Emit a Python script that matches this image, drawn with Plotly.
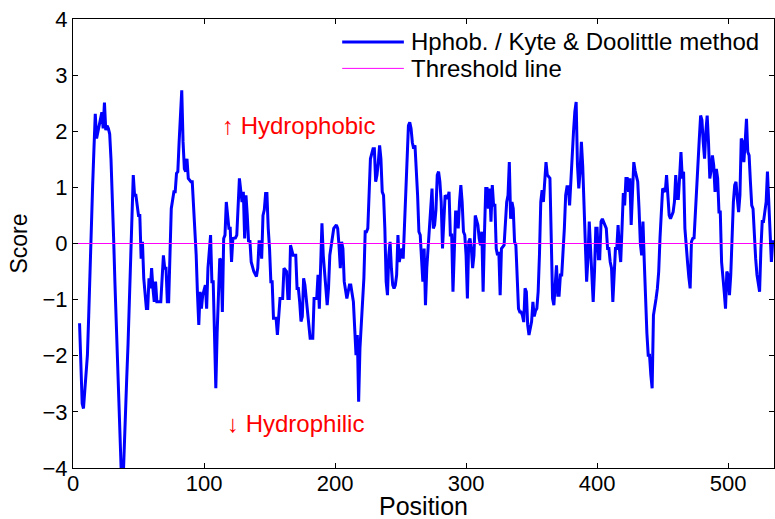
import plotly.graph_objects as go

# Kyte & Doolittle hydropathy profile
position = [5, 7, 8, 11, 12, 13, 14, 15, 16, 17, 18, 20, 22, 23, 24, 25, 26, 27, 28, 29,
            30, 31, 32, 33, 34, 35, 36, 37, 38, 39, 40, 41, 42, 43, 44, 45, 46, 47, 48, 50,
            51, 52, 53, 54, 56, 57, 58, 59, 60, 61, 62, 63, 64, 65, 67, 69, 70, 71, 72, 73,
            75, 77, 78, 79, 80, 81, 82, 83, 84, 85, 86, 87, 88, 90, 91, 92, 93, 94, 95, 96,
            97, 98, 99, 101, 102, 103, 105, 106, 107, 108, 109, 110, 111, 112, 113, 114, 115, 116, 117, 118,
            119, 120, 121, 122, 124, 125, 126, 127, 129, 130, 131, 132, 133, 134, 135, 136, 138, 140, 141, 142,
            143, 144, 145, 146, 147, 148, 149, 150, 151, 152, 153, 155, 156, 157, 158, 160, 161, 163, 164, 165,
            166, 168, 170, 171, 172, 173, 174, 175, 176, 177, 179, 180, 181, 183, 184, 186, 187, 188, 189, 190,
            191, 192, 193, 194, 195, 196, 198, 199, 201, 202, 203, 204, 205, 206, 207, 208, 209, 211, 212, 214,
            215, 216, 217, 218, 219, 221, 222, 223, 224, 225, 226, 227, 229, 230, 231, 232, 233, 234, 235, 236,
            237, 238, 239, 240, 241, 242, 243, 244, 245, 246, 247, 248, 249, 251, 252, 253, 254, 255, 256, 257,
            258, 259, 260, 261, 262, 263, 264, 265, 266, 267, 268, 269, 270, 271, 272, 273, 274, 275, 276, 277,
            278, 279, 280, 281, 282, 283, 284, 286, 287, 288, 289, 290, 291, 292, 293, 294, 295, 296, 297, 298,
            299, 300, 301, 302, 303, 304, 305, 306, 307, 309, 310, 311, 312, 313, 314, 315, 316, 317, 318, 319,
            320, 321, 322, 323, 324, 325, 326, 327, 329, 330, 331, 332, 333, 334, 335, 336, 337, 338, 339, 340,
            341, 342, 343, 344, 345, 346, 347, 348, 350, 351, 352, 353, 354, 355, 356, 357, 358, 359, 361, 362,
            364, 365, 366, 367, 368, 369, 370, 371, 372, 373, 375, 376, 377, 378, 379, 380, 381, 382, 383, 384,
            385, 386, 387, 388, 389, 390, 391, 392, 393, 394, 395, 396, 397, 398, 399, 400, 401, 402, 403, 404,
            406, 407, 408, 409, 410, 411, 412, 413, 414, 415, 416, 417, 418, 419, 420, 421, 422, 423, 424, 425,
            426, 427, 428, 429, 430, 431, 432, 433, 434, 435, 436, 437, 438, 439, 440, 441, 442, 443, 444, 445,
            446, 447, 448, 449, 450, 451, 452, 453, 454, 455, 456, 458, 459, 460, 461, 462, 463, 464, 465, 466,
            467, 468, 469, 470, 471, 472, 473, 474, 475, 476, 477, 478, 479, 480, 481, 482, 483, 484, 485, 486,
            487, 488, 489, 490, 491, 492, 493, 494, 495, 496, 497, 498, 499, 500, 501, 502, 503, 504, 505, 506,
            507, 508, 509, 510, 511, 512, 513, 514, 515, 516, 517, 518, 519, 520, 521, 522, 524, 525, 526, 527,
            528, 529, 530, 531, 532, 533, 534, 535]

score = [-1.42, -2.85, -2.94, -1.99, -1.28, -0.39, 0.62, 1.04, 1.69, 2.31, 1.87, 2.10, 2.34, 2.05, 2.51, 2.02, 2.10, 2.05, 1.95, 1.50,
         0.90, 0.10, -0.70, -1.50, -2.30, -3.00, -3.60, -4.20, -4.40, -3.60, -2.90, -2.40, -1.80, -1.10, -0.30, 0.60, 1.22, 0.86, 0.86, 0.50,
         0.50, -0.27, 0.03, -0.62, -1.16, -1.16, -0.62, -0.80, -0.44, -0.80, -1.04, -0.68, -1.04, -1.04, -1.04, -0.21, -0.44, -0.44, -1.04, -1.04,
         0.62, 0.92, 0.92, 1.25, 1.28, 1.81, 2.30, 2.73, 1.81, 1.33, 1.28, 1.51, 1.16, 1.10, 1.10, 0.70, 0.40, -0.20, -0.90, -1.45,
         -0.86, -1.16, -0.92, -0.74, -1.16, -0.44, 0.15, -0.68, -0.68, -1.60, -2.58, -1.60, -0.90, -0.27, -0.30, -1.22, 0.09, 0.15, 0.74, 0.50,
         0.27, 0.27, -0.33, 0.09, 0.10, 0.15, 0.62, 1.16, 0.74, 0.92, 0.09, 0.86, 0.50, 0.03, 0.06, -0.33, -0.50, -0.59, -0.44, 0.03,
         0.03, -0.27, 0.50, 0.60, 0.89, 0.89, 0.27, -0.09, -0.68, -0.68, -1.33, -1.33, -1.63, -1.30, -0.98, -0.98, -0.44, -0.50, -0.98, -0.98,
         -0.03, -0.21, -0.21, -0.80, -0.80, -1.04, -1.39, -1.30, -0.62, -0.74, -1.22, -1.39, -1.69, -1.69, -0.98, -0.98, -0.56, -1.16, -0.21, 0.36,
         -0.21, -0.62, -0.80, -1.10, -0.80, -0.21, 0.15, 0.27, 0.33, 0.27, -0.03, -0.44, 0.03, -0.09, -0.68, -0.80, -0.98, -0.74, -0.74, -1.04,
         -1.57, -1.99, -1.63, -2.82, -1.87, -1.10, -0.62, 0.21, 0.21, 0.27, 0.92, 1.51, 1.69, 1.69, 1.10, 1.22, 1.45, 1.75, 1.51, 0.92,
         0.86, 0.27, -0.68, -0.92, -0.21, 0.03, -0.44, -0.74, -0.80, -0.74, -0.56, 0.15, -0.33, -0.09, -0.27, 0.27, 0.98, 1.51, 2.10, 2.16,
         2.05, 1.80, 1.69, 1.75, 1.40, 0.86, 0.21, 0.15, -0.27, -0.68, -0.09, -1.10, -0.44, -0.09, 0.21, 0.74, 0.98, 0.27, 0.33, 0.60,
         1.22, 1.28, 1.10, 0.74, -0.09, 0.39, 0.86, 0.80, 0.92, 0.15, 0.15, -0.86, 0.09, 0.56, 0.56, 0.27, 0.74, 1.04, 0.74, 0.21,
         0.15, -0.21, -0.98, 0.03, 0.09, -0.09, -0.44, -0.21, 0.50, 0.33, 0.09, -0.03, 0.21, -0.86, 0.15, 0.98, 0.98, 0.62, 0.98, 0.39,
         1.04, 0.68, 0.68, -0.09, -0.21, -0.15, -0.92, -0.09, -0.03, 0.39, 0.74, 0.86, 1.45, 0.44, 0.74, 0.62, 0.03, -0.03, -0.68, -1.16,
         -1.22, -1.22, -1.28, -1.40, -0.80, -0.86, -1.45, -1.63, -1.39, -1.04, -1.30, -1.20, -1.16, -0.86, -0.20, 0.74, 0.95, 0.74, 1.45, 1.22,
         1.16, 0.03, -0.98, -1.10, -0.80, -0.39, -0.92, -0.92, -0.56, -0.56, 0.27, 0.86, 1.01, 1.01, 0.68, 1.20, 1.70, 2.00, 2.35, 2.52,
         1.40, 0.98, 1.28, 1.81, 1.39, 0.80, -0.09, -0.68, -0.27, 0.39, -0.09, -0.56, -1.04, -0.50, 0.27, 0.27, -0.27, -0.27, 0.39, 0.44,
         0.33, 0.27, -0.09, -0.09, -0.33, -0.44, -1.04, -0.44, -0.09, -0.09, 0.33, -0.09, -0.33, 0.27, 0.90, 0.68, 1.16, 1.16, 0.92, 1.16,
         0.33, 0.90, 1.45, 1.30, 1.22, 1.10, 0.62, 0.00, -0.21, 0.39, -0.33, -1.10, -1.60, -1.99, -1.99, -2.34, -2.58, -1.28, -1.16, -0.98,
         -0.80, -0.50, 0.10, 0.62, 0.98, 0.95, 0.92, 1.22, 0.74, 0.50, 0.44, 0.56, 0.74, 1.22, 0.80, 0.80, 1.20, 1.63, 1.16, 1.28,
         0.27, -0.09, -0.33, -0.60, -0.80, 0.03, 0.09, 0.10, 0.60, 0.98, 1.57, 1.87, 2.28, 2.20, 1.80, 1.51, 2.00, 2.28, 1.81, 1.16,
         1.30, 1.57, 1.39, 0.92, 1.33, 1.16, 0.56, 0.56, -0.33, -0.55, -0.86, -1.16, -0.50, -0.56, -0.92, -0.56, 0.27, 0.74, 1.04, 1.10,
         0.80, 0.56, 0.86, 1.87, 1.81, 1.45, 1.81, 2.22, 1.63, 1.57, 1.10, 0.68, 0.62, 0.03, -0.27, -0.56, -0.86, -0.10, 0.39, 0.39,
         0.56, 0.74, 1.28, 0.74, 0.20, -0.33, 0.03, 0.03]

threshold = 0
x_limits = [0, 535]
y_limits = [-4, 4]
x_ticks = [0, 100, 200, 300, 400, 500]
y_ticks = [-4, -3, -2, -1, 0, 1, 2, 3, 4]
series_names = ["Hphob. / Kyte & Doolittle method", "Threshold line"]
series_colors = ["#0000FF", "#FF00FF"]
series_widths = [3, 1]

FONT = "Arial, Liberation Sans, Helvetica, sans-serif"

fig = go.Figure()
fig.add_trace(go.Scatter(
    x=position, y=score, mode="lines", name=series_names[0],
    line=dict(color=series_colors[0], width=series_widths[0]),
    showlegend=False,
))
fig.add_trace(go.Scatter(
    x=x_limits, y=[threshold, threshold], mode="lines", name=series_names[1],
    line=dict(color=series_colors[1], width=series_widths[1]),
    showlegend=False,
))

# legend drawn as a key in the top-right corner (MATLAB style, no box)
legend_rows_y = [0.949, 0.890]
for name, color, width, ly in zip(series_names, series_colors, series_widths, legend_rows_y):
    fig.add_shape(type="line", xref="paper", yref="paper",
                  x0=0.384, x1=0.472, y0=ly, y1=ly,
                  line=dict(color=color, width=width))
    fig.add_annotation(xref="paper", yref="paper", x=0.480, y=ly, text=name,
                       showarrow=False, xanchor="left", yanchor="middle",
                       font=dict(family=FONT, size=24, color="black"))

fig.add_annotation(x=112, y=2.1, text="↑ Hydrophobic", showarrow=False,
                   xanchor="left", yanchor="middle",
                   font=dict(family=FONT, size=24, color="#FF0000"))
fig.add_annotation(x=116, y=-3.2, text="↓ Hydrophilic", showarrow=False,
                   xanchor="left", yanchor="middle",
                   font=dict(family=FONT, size=24, color="#FF0000"))

# x-axis title placed as in the reference (just below the tick labels)
fig.add_annotation(xref="paper", yref="paper", x=0.5, y=-0.0846, text="Position",
                   showarrow=False, xanchor="center", yanchor="middle",
                   font=dict(family=FONT, size=25, color="black"))

axis_common = dict(
    showgrid=False, zeroline=False, showline=True, linecolor="black", linewidth=1,
    mirror="ticks", ticks="inside", ticklen=5, tickcolor="black",
    tickfont=dict(family=FONT, size=22, color="black"),
    automargin=False,
)

fig.update_layout(
    width=775, height=519,
    margin=dict(l=73, r=1, t=19, b=51),
    paper_bgcolor="white", plot_bgcolor="white",
    font=dict(family=FONT, color="black"),
    showlegend=False,
    xaxis=dict(range=x_limits, tickvals=x_ticks, ticklabelstandoff=-4, **axis_common),
    yaxis=dict(range=y_limits, tickvals=y_ticks,
               title=dict(text="Score", font=dict(family=FONT, size=23), standoff=8),
               **axis_common),
)

fig.write_html("out.html", config={"displayModeBar": False},
               post_script="document.body.style.margin='0';")
